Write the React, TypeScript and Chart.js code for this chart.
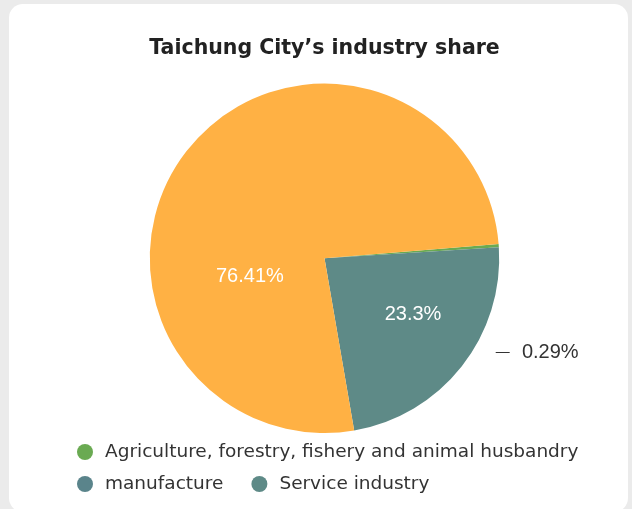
import React, { useEffect, useRef } from 'react';
import { Chart, registerables } from 'chart.js';

Chart.register(...registerables);

const titleText = 'Taichung City\u2019s industry share';
const sliceNames = ['Agriculture, forestry, fishery and animal husbandry', 'Service industry', 'manufacture'];
const sliceValues = [0.29, 23.3, 76.41];
const sliceColors = ['#6aaa52', '#5e8a87', '#ffb144'];
const legendNames = ['Agriculture, forestry, fishery and animal husbandry', 'manufacture', 'Service industry'];
const legendColors = ['#6aaa52', '#5a848b', '#5e8a87'];
const startAngleDeg = 85.3;

const NUM_FONT = '"Liberation Sans", Arial, sans-serif';
const TEXT_FONT = '"DejaVu Sans", sans-serif';

// label placement styles (fractions of the slice angle / radius)
const labelPlace: any[] = [
  { inside: false, dy: 0.537, x0: 0.98, x1: 1.06, tx: 1.13 },
  { inside: true, a: 0.43, r: 0.6 },
  { inside: true, a: 0.312, r: 0.44 },
];

const labelPlugin = {
  id: 'sliceLabels',
  afterDatasetsDraw(chart: any) {
    const ctx = chart.ctx;
    const meta = chart.getDatasetMeta(0);
    meta.data.forEach((arc: any, i: number) => {
      const { x, y, startAngle, endAngle, outerRadius } = arc.getProps(
        ['x', 'y', 'startAngle', 'endAngle', 'outerRadius'],
        true
      );
      const text = sliceValues[i] + '%';
      const p = labelPlace[i];
      ctx.save();
      ctx.font = '20px ' + NUM_FONT;
      ctx.textBaseline = 'middle';
      if (p.inside) {
        const ang = startAngle + (endAngle - startAngle) * p.a;
        const r = outerRadius * p.r;
        ctx.fillStyle = '#ffffff';
        ctx.textAlign = 'center';
        ctx.fillText(text, x + Math.cos(ang) * r, y + Math.sin(ang) * r);
      } else {
        const ly = y + outerRadius * p.dy;
        ctx.strokeStyle = '#333';
        ctx.lineWidth = 1;
        ctx.beginPath();
        ctx.moveTo(x + outerRadius * p.x0, Math.round(ly) + 0.5);
        ctx.lineTo(x + outerRadius * p.x1, Math.round(ly) + 0.5);
        ctx.stroke();
        ctx.fillStyle = '#333';
        ctx.textAlign = 'left';
        ctx.fillText(text, x + outerRadius * p.tx, ly);
      }
      ctx.restore();
    });
  },
};

const legendPlugin = {
  id: 'customLegend',
  afterDraw(chart: any) {
    const ctx = chart.ctx;
    const area = chart.chartArea;
    const left = 77;
    const maxRight = 620;
    const rowH = 32;
    const radius = 8;
    const textGap = 20;
    const itemGap = 36;
    let cx = left + radius;
    let cy = area.bottom + 19;
    ctx.save();
    ctx.font = '18.5px ' + TEXT_FONT;
    ctx.textBaseline = 'middle';
    ctx.textAlign = 'left';
    legendNames.forEach((name, i) => {
      const tw = ctx.measureText(name).width;
      const w = radius + textGap + tw;
      if (cx - radius + w > maxRight && cx !== left + radius) {
        cx = left + radius;
        cy += rowH;
      }
      ctx.fillStyle = legendColors[i];
      ctx.beginPath();
      ctx.arc(cx, cy, radius, 0, Math.PI * 2);
      ctx.fill();
      ctx.fillStyle = '#333';
      ctx.fillText(name, cx + textGap, cy);
      cx = cx + textGap + tw + itemGap;
    });
    ctx.restore();
  },
};

export default function App() {
  const ref = useRef<HTMLCanvasElement>(null);
  useEffect(() => {
    const chart = new Chart(ref.current as HTMLCanvasElement, {
      type: 'pie',
      data: {
        labels: sliceNames,
        datasets: [
          {
            data: sliceValues,
            backgroundColor: sliceColors,
            borderWidth: 0,
          },
        ],
      },
      options: {
        animation: false,
        responsive: true,
        maintainAspectRatio: false,
        rotation: startAngleDeg,
        layout: { padding: { left: 17, right: 0, top: 0, bottom: 76 } },
        plugins: {
          legend: { display: false },
          tooltip: { enabled: false },
          title: {
            display: true,
            text: titleText,
            color: '#222',
            font: { size: 20.5, weight: 'bold', family: TEXT_FONT },
            padding: { top: 36, bottom: 23 },
          },
        },
      },
      plugins: [labelPlugin, legendPlugin],
    } as any);
    return () => chart.destroy();
  }, []);
  return (
    <div
      style={{
        position: 'fixed',
        left: 0,
        top: 0,
        width: 632,
        height: 509,
        background: '#ebebeb',
        overflow: 'hidden',
      }}
    >
      <div
        style={{
          position: 'absolute',
          left: 9,
          top: 4,
          width: 619,
          height: 508,
          background: '#ffffff',
          borderRadius: 14,
        }}
      />
      <div style={{ position: 'absolute', left: 0, top: 0, width: 632, height: 509 }}>
        <canvas ref={ref} />
      </div>
    </div>
  );
}
